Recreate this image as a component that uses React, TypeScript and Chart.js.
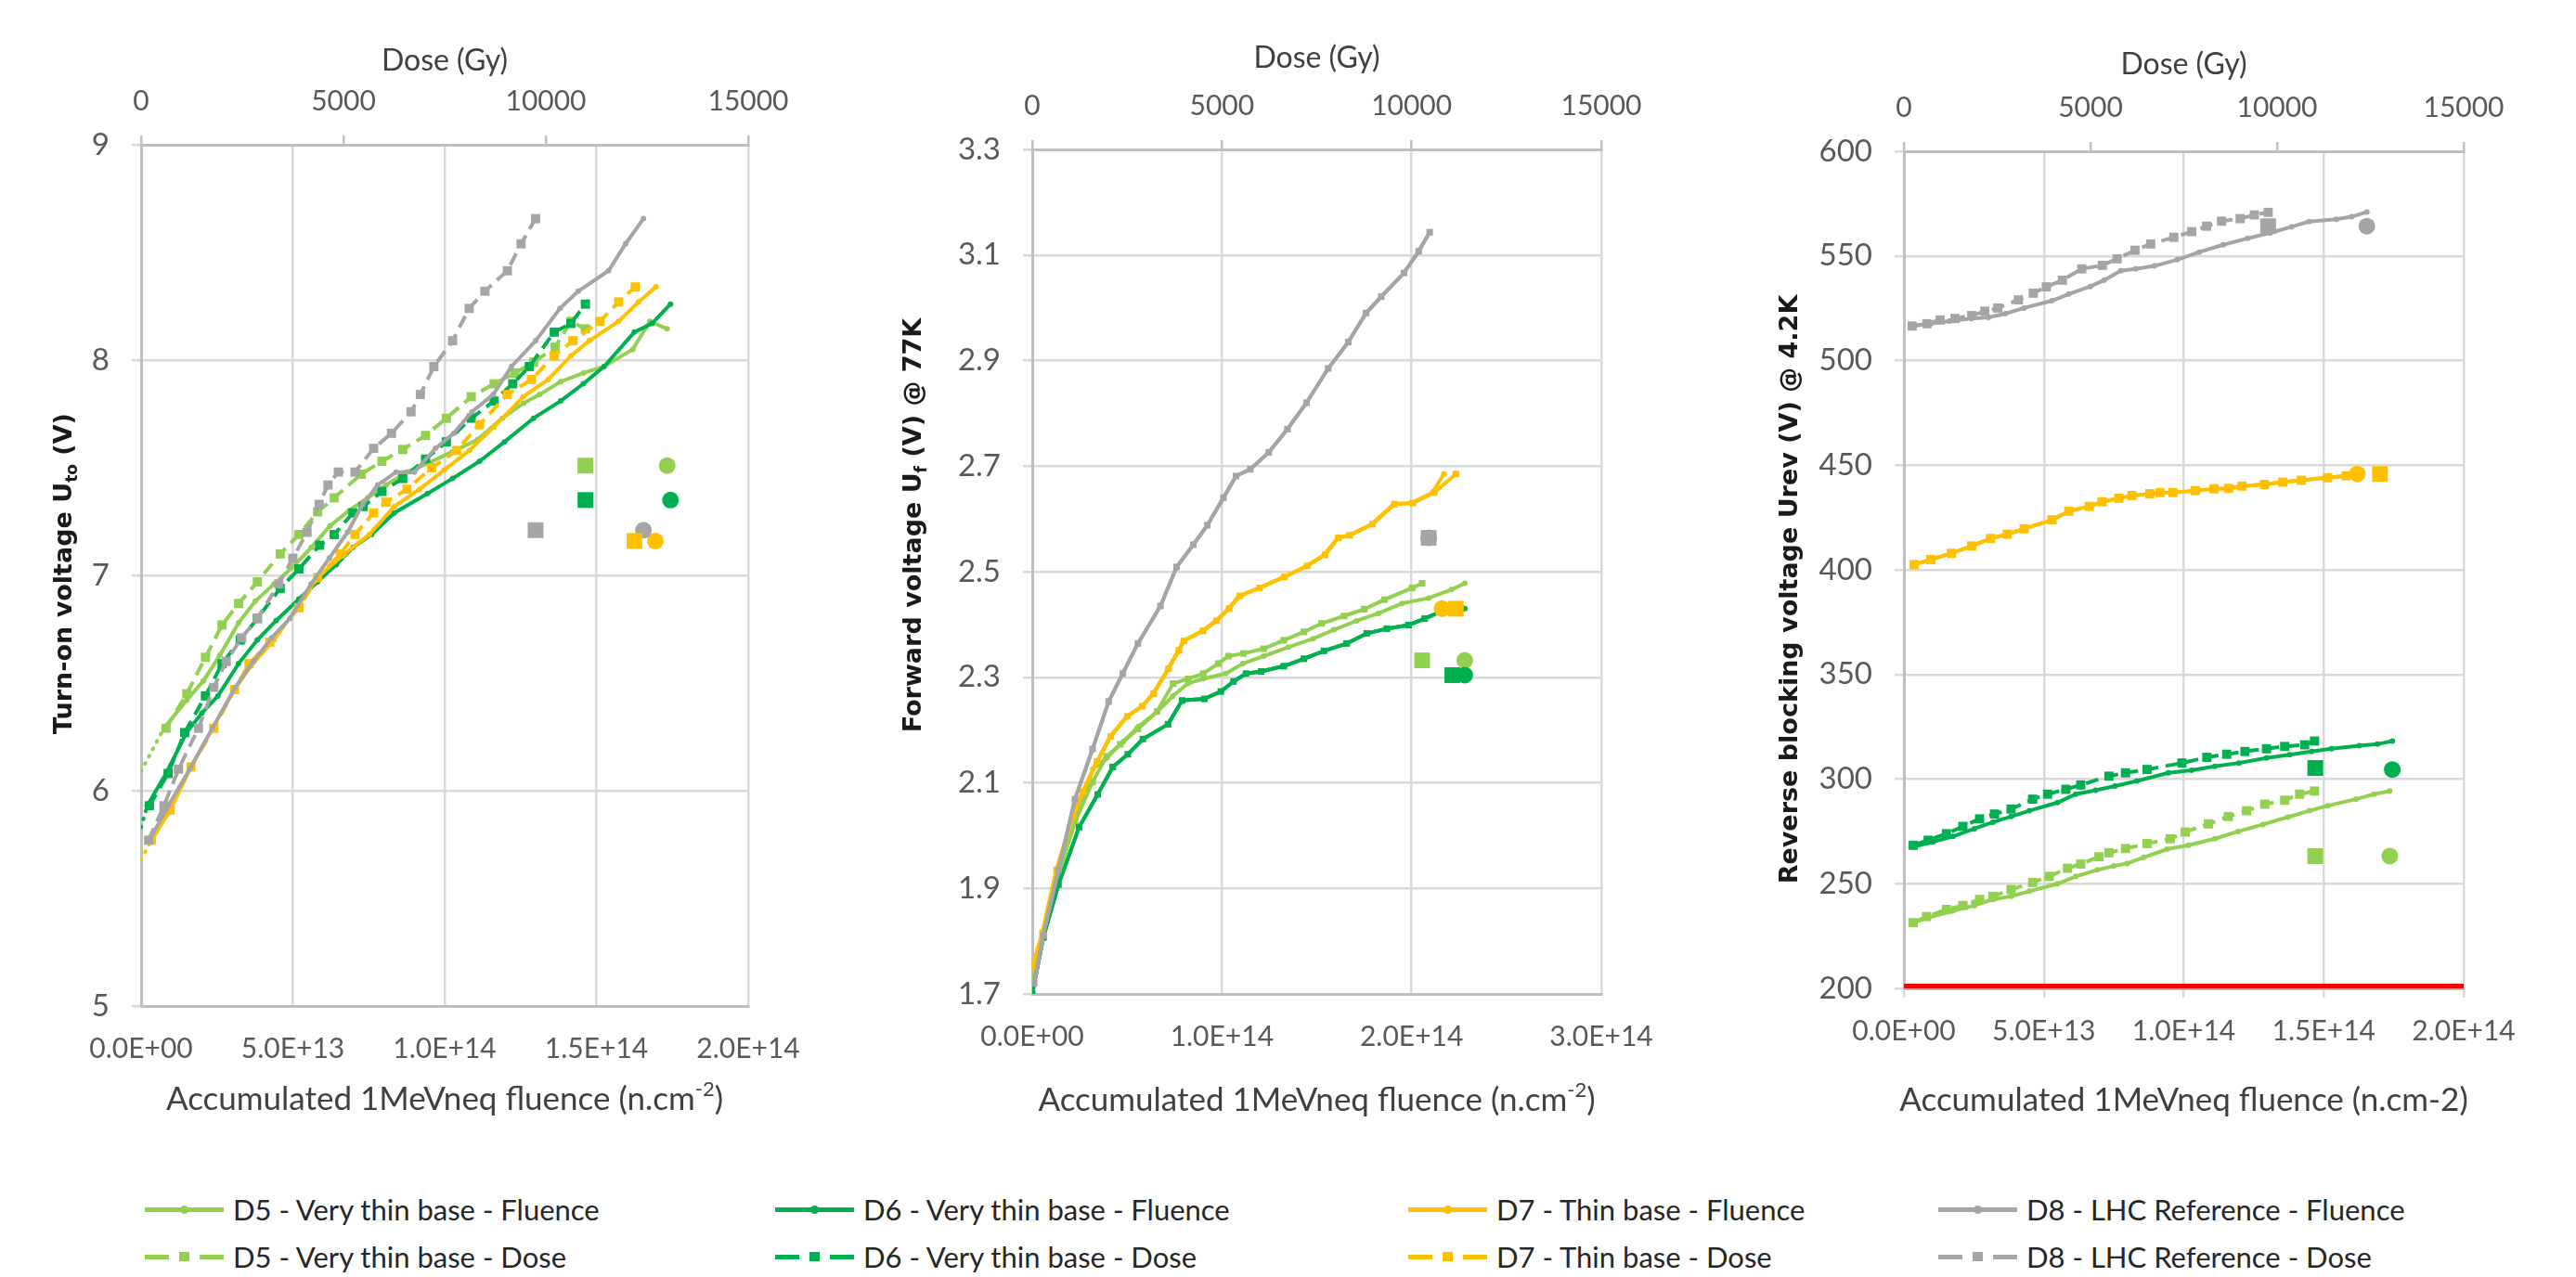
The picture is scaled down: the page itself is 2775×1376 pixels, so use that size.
import React, { useEffect, useRef } from "react";
import { Chart, registerables } from "chart.js";

Chart.register(...registerables);

// ---------- style constants ----------
const FONT = "Lato, 'Open Sans', sans-serif";
const BOLD_FAMILY = "'DejaVu Sans', Verdana, sans-serif";
const C_D5 = "#92D050";
const C_D6 = "#00B050";
const C_D7 = "#FFC000";
const C_D8 = "#A5A5A5";
const RED = "#FF0000";
const GRID = "#D9D9D9";
const AXIS = "#BFBFBF";
const TICK_COLOR = "#595959";
const TITLE_COLOR = "#404040";
const YTITLE_COLOR = "#1A1A1A";
const E13 = 1e13;

// ---------- tick labels ----------
const FLU_TICKS_2E14 = ["0.0E+00", "5.0E+13", "1.0E+14", "1.5E+14", "2.0E+14"];
const FLU_TICKS_3E14 = ["0.0E+00", "1.0E+14", "2.0E+14", "3.0E+14"];
const DOSE_TICKS = ["0", "5000", "10000", "15000"];
const P1_Y_TICKS = ["5", "6", "7", "8", "9"];
const P2_Y_TICKS = ["1.7", "1.9", "2.1", "2.3", "2.5", "2.7", "2.9", "3.1", "3.3"];
const P3_Y_TICKS = ["200", "250", "300", "350", "400", "450", "500", "550", "600"];

// ---------- legend ----------
const LEGEND_FLU = [
  "D5 - Very thin base - Fluence",
  "D6 - Very thin base - Fluence",
  "D7 - Thin base - Fluence",
  "D8 - LHC Reference - Fluence",
];
const LEGEND_DOSE = [
  "D5 - Very thin base - Dose",
  "D6 - Very thin base - Dose",
  "D7 - Thin base - Dose",
  "D8 - LHC Reference - Dose",
];
const DEVICE_COLORS = [C_D5, C_D6, C_D7, C_D8];

// ================= PANEL 1 : Turn-on voltage =================
// fluence in units of 1E13 n/cm2, dose in Gy
const P1_D5_FLU_X = [0.75, 1.5, 2.05, 2.6, 3.21, 3.76, 4.38, 5.0, 5.61, 6.22, 6.84, 7.46, 8.07, 8.75, 9.44, 10.26, 11.08, 11.9, 12.6, 13.13, 13.82, 14.57, 15.25, 16.2, 16.76, 17.33];
const P1_D5_FLU_Y = [6.29, 6.42, 6.51, 6.63, 6.78, 6.88, 6.96, 7.04, 7.13, 7.23, 7.30, 7.36, 7.42, 7.48, 7.52, 7.575, 7.63, 7.73, 7.80, 7.84, 7.90, 7.94, 7.97, 8.05, 8.18, 8.145];
const P1_D5_DOSE_X = [616, 1129, 1590, 2001, 2411, 2873, 3437, 3899, 4361, 4771, 5438, 5951, 6464, 7028, 7541, 8157, 8721, 9234, 9700, 10229, 10620, 10978];
const P1_D5_DOSE_Y = [6.29, 6.45, 6.62, 6.77, 6.87, 6.97, 7.10, 7.19, 7.295, 7.36, 7.47, 7.53, 7.585, 7.65, 7.73, 7.83, 7.89, 7.94, 7.99, 8.06, 8.18, 8.145];

const P1_D6_FLU_X = [0.2, 0.82, 1.5, 2.0, 2.53, 3.21, 3.83, 4.45, 5.2, 5.81, 6.43, 6.98, 7.59, 8.34, 9.44, 10.26, 11.15, 11.97, 12.93, 13.82, 14.57, 15.25, 16.25, 16.83, 17.44];
const P1_D6_FLU_Y = [5.93, 6.08, 6.27, 6.36, 6.44, 6.59, 6.70, 6.79, 6.89, 6.97, 7.05, 7.13, 7.19, 7.29, 7.38, 7.45, 7.53, 7.62, 7.73, 7.81, 7.89, 7.97, 8.13, 8.17, 8.26];
const P1_D6_DOSE_X = [205, 667, 1077, 1590, 2001, 2450, 2873, 3437, 3899, 4412, 4771, 5233, 5489, 5951, 6464, 7028, 7541, 8157, 8721, 9183, 9593, 10208, 10619, 10978];
const P1_D6_DOSE_Y = [5.93, 6.08, 6.27, 6.44, 6.59, 6.70, 6.80, 6.94, 7.03, 7.14, 7.19, 7.29, 7.32, 7.39, 7.45, 7.54, 7.62, 7.73, 7.81, 7.89, 7.97, 8.13, 8.17, 8.26];

const P1_D7_FLU_X = [0.34, 0.96, 1.64, 2.39, 3.08, 3.62, 4.38, 5.13, 5.81, 6.70, 7.52, 8.34, 9.17, 9.99, 10.81, 11.63, 12.59, 13.41, 14.16, 14.77, 15.73, 16.39, 16.96];
const P1_D7_FLU_Y = [5.77, 5.91, 6.11, 6.30, 6.47, 6.58, 6.70, 6.85, 6.99, 7.10, 7.19, 7.32, 7.40, 7.49, 7.58, 7.69, 7.83, 7.91, 8.02, 8.09, 8.18, 8.27, 8.34];
const P1_D7_DOSE_X = [256, 718, 1231, 1796, 2309, 2668, 3181, 3899, 4361, 4925, 5284, 5746, 6053, 6566, 7182, 7797, 8362, 9049, 9644, 10208, 10670, 11337, 11799, 12209];
const P1_D7_DOSE_Y = [5.77, 5.91, 6.11, 6.29, 6.47, 6.59, 6.69, 6.85, 6.99, 7.10, 7.19, 7.29, 7.34, 7.40, 7.50, 7.58, 7.70, 7.84, 7.91, 8.02, 8.09, 8.18, 8.27, 8.34];

const P1_D8_FLU_X = [0.27, 0.9, 1.6, 2.35, 3.1, 3.7, 4.3, 4.9, 5.6, 6.2, 6.8, 7.3, 7.8, 8.4, 9.0, 9.7, 10.3, 10.9, 11.6, 12.2, 13.0, 13.8, 14.4, 15.4, 15.96, 16.55];
const P1_D8_Y = [5.77, 5.93, 6.10, 6.29, 6.48, 6.60, 6.71, 6.80, 6.96, 7.08, 7.20, 7.33, 7.42, 7.48, 7.48, 7.59, 7.66, 7.76, 7.84, 7.97, 8.09, 8.24, 8.32, 8.415, 8.54, 8.657];
const P1_D8_DOSE_X = [185, 564, 924, 1416, 1796, 2103, 2483, 2873, 3400, 3750, 4100, 4400, 4617, 4874, 5284, 5746, 6187, 6669, 6900, 7233, 7695, 8105, 8495, 9050, 9388, 9747];

// dotted start extensions (fluence)
const P1_D5_DOT_X = [0, 0.75];
const P1_D5_DOT_Y = [6.09, 6.29];
const P1_D6_DOT_X = [0, 0.2];
const P1_D6_DOT_Y = [5.83, 5.93];
const P1_D7_DOT_X = [0, 0.34];
const P1_D7_DOT_Y = [5.68, 5.77];

// isolated markers (order D5, D6, D7, D8)
const P1_SQ_DOSE = [10978, 10978, 12189, 9747];
const P1_SQ_Y = [7.51, 7.35, 7.16, 7.21];
const P1_CI_FLU = [17.33, 17.44, 16.94, 16.55];
const P1_CI_Y = [7.51, 7.35, 7.16, 7.21];

// ================= PANEL 2 : Forward voltage =================
const P2_D5_FLU_X = [0, 0.58, 1.33, 2.25, 3.2, 3.85, 4.8, 5.6, 6.6, 7.4, 8.2, 9.0, 10.2, 11.1, 12.2, 13.5, 14.8, 15.9, 17.1, 18.25, 19.5, 20.9, 22.1, 22.8];
const P2_D5_FLU_Y = [1.72, 1.807, 1.921, 2.026, 2.126, 2.145, 2.178, 2.207, 2.235, 2.264, 2.288, 2.297, 2.307, 2.326, 2.34, 2.357, 2.373, 2.39, 2.407, 2.421, 2.44, 2.45, 2.466, 2.478];
const P2_D5_DOSE_X = [0, 292, 663, 1127, 1591, 1962, 2321, 2785, 3288, 3713, 4111, 4508, 4906, 5171, 5569, 6100, 6630, 7160, 7625, 8221, 8752, 9282, 10011, 10277];
const P2_D5_DOSE_Y = [1.72, 1.807, 1.921, 2.026, 2.102, 2.15, 2.173, 2.202, 2.235, 2.288, 2.297, 2.307, 2.326, 2.34, 2.345, 2.354, 2.37, 2.386, 2.402, 2.416, 2.429, 2.447, 2.469, 2.478];

const P2_D6_FLU_X = [0, 0.58, 1.38, 2.47, 3.45, 4.24, 5.04, 5.84, 7.16, 7.9, 9.07, 9.95, 10.61, 11.27, 12.07, 13.26, 14.32, 15.38, 16.58, 17.64, 18.70, 19.84, 20.69, 21.62, 22.81];
const P2_D6_Y = [1.70, 1.807, 1.907, 2.016, 2.078, 2.13, 2.154, 2.183, 2.211, 2.256, 2.259, 2.273, 2.292, 2.307, 2.311, 2.321, 2.335, 2.35, 2.364, 2.383, 2.392, 2.399, 2.411, 2.426, 2.43];
const P2_D6_DOSE_X = [0, 292, 690, 1234, 1724, 2122, 2519, 2917, 3580, 3950, 4535, 4972, 5304, 5635, 6033, 6630, 7160, 7690, 8287, 8818, 9348, 9918, 10343, 10807, 11300];

const P2_D7_FLU_X = [0, 0.53, 1.27, 2.12, 2.65, 3.40, 4.11, 4.99, 5.78, 6.37, 7.16, 7.7, 7.96, 8.97, 9.68, 10.34, 10.9, 11.94, 13.26, 14.46, 15.4, 16.1, 16.7, 17.9, 19.05, 20.0, 21.1, 21.7];
const P2_D7_Y = [1.75, 1.816, 1.935, 2.035, 2.083, 2.14, 2.188, 2.226, 2.245, 2.269, 2.316, 2.351, 2.369, 2.388, 2.407, 2.43, 2.454, 2.469, 2.49, 2.511, 2.532, 2.564, 2.569, 2.59, 2.628, 2.63, 2.65, 2.685];
const P2_D7_DOSE_X = [0, 270, 640, 1070, 1340, 1710, 2070, 2510, 2900, 3200, 3590, 3870, 4000, 4500, 4860, 5190, 5470, 5990, 6650, 7250, 7720, 8070, 8370, 8970, 9550, 10030, 10600, 11165];

const P2_D8_FLU_X = [0.1, 0.58, 1.38, 2.25, 3.18, 4.03, 4.77, 5.57, 6.76, 7.61, 8.49, 9.23, 10.08, 10.74, 11.49, 12.47, 13.45, 14.46, 15.6, 16.66, 17.6, 18.4, 19.6, 20.37, 20.95];
const P2_D8_Y = [1.72, 1.811, 1.935, 2.069, 2.164, 2.254, 2.307, 2.364, 2.435, 2.509, 2.551, 2.588, 2.64, 2.681, 2.694, 2.726, 2.77, 2.82, 2.885, 2.935, 2.99, 3.021, 3.066, 3.107, 3.143];
const P2_D8_DOSE_X = [50, 290, 690, 1125, 1590, 2015, 2385, 2785, 3380, 3805, 4245, 4615, 5040, 5370, 5745, 6235, 6725, 7230, 7800, 8330, 8800, 9200, 9800, 10185, 10477];

const P2_SQ_DOSE = [10277, 11072, 11165, 10450];
const P2_SQ_Y = [2.332, 2.304, 2.43, 2.564];
const P2_CI_FLU = [22.8, 22.8, 21.6, 20.9];
const P2_CI_Y = [2.332, 2.304, 2.43, 2.564];

// ================= PANEL 3 : Reverse blocking voltage =================
const P3_D5_FLU_X = [0.33, 0.86, 1.75, 2.52, 3.18, 3.83, 4.48, 5.49, 6.14, 6.91, 7.5, 7.97, 8.57, 9.40, 10.17, 11.11, 11.94, 12.83, 13.72, 14.49, 15.14, 16.15, 16.8, 17.36];
const P3_D5_FLU_Y = [231.4, 233.8, 237.0, 239.6, 242.5, 244.0, 246.4, 250.0, 253.5, 256.6, 258.5, 259.7, 262.6, 266.5, 268.4, 271.5, 275.0, 278.3, 281.8, 284.9, 287.3, 290.4, 292.8, 294.3];
const P3_D5_DOSE_X = [249, 604, 1138, 1582, 2027, 2382, 2871, 3449, 3893, 4382, 4738, 5227, 5493, 5938, 6516, 7138, 7538, 8160, 8693, 9182, 9671, 10204, 10604, 11004];
const P3_D5_DOSE_Y = [231.4, 234.3, 237.7, 239.6, 242.5, 244.0, 247.2, 250.6, 253.5, 257.4, 259.4, 262.9, 264.8, 266.8, 269.2, 271.5, 274.7, 278.6, 282.1, 284.9, 288.0, 289.9, 292.8, 294.3];

const P3_D6_FLU_X = [0.33, 1.04, 1.75, 2.52, 3.18, 3.83, 4.48, 5.49, 6.14, 6.85, 7.54, 8.33, 9.45, 10.28, 11.11, 11.97, 12.95, 13.78, 14.57, 15.28, 16.27, 16.92, 17.45];
const P3_D6_FLU_Y = [267.6, 270.0, 272.6, 276.3, 279.4, 282.1, 284.9, 288.8, 292.8, 294.7, 296.7, 299.1, 303.0, 304.2, 306.1, 307.7, 310.1, 311.6, 313.2, 314.5, 316.0, 316.7, 318.2];
const P3_D6_DOSE_X = [249, 649, 1138, 1582, 2027, 2427, 2871, 3449, 3849, 4338, 4738, 5493, 5938, 6516, 7449, 8116, 8649, 9138, 9716, 10204, 10738, 11004];
const P3_D6_DOSE_Y = [268.4, 270.8, 273.9, 277.4, 281.0, 283.3, 285.7, 290.4, 292.8, 295.1, 297.2, 301.4, 303.0, 304.6, 307.7, 310.4, 311.9, 313.2, 314.5, 315.6, 316.4, 318.2];

const P3_D7_FLU_X = [0.36, 0.96, 1.69, 2.42, 3.09, 3.69, 4.29, 5.29, 5.89, 6.62, 7.08, 7.68, 8.15, 8.79, 9.15, 9.61, 10.41, 11.08, 11.6, 12.08, 12.88, 13.54, 14.2, 15.14, 15.8];
const P3_D7_Y = [402.5, 404.9, 407.9, 411.4, 415.0, 417.0, 419.6, 423.9, 428.0, 430.3, 432.5, 434.2, 435.5, 436.4, 436.9, 436.9, 437.8, 438.7, 438.9, 440.0, 440.8, 441.9, 442.8, 444.0, 444.9];
const P3_D7_DOSE_X = [270, 720, 1270, 1815, 2320, 2770, 3220, 3970, 4420, 4965, 5310, 5760, 6110, 6590, 6860, 7210, 7810, 8310, 8700, 9060, 9660, 10155, 10650, 11355, 11850];

const P3_D8_FLU_X = [0.29, 0.96, 1.62, 2.42, 3.02, 3.62, 4.29, 5.29, 5.89, 6.66, 7.15, 7.75, 8.28, 8.95, 9.77, 10.55, 11.41, 12.28, 13.08, 13.85, 14.47, 15.45, 16.0, 16.54];
const P3_D8_FLU_Y = [516.5, 517.6, 518.8, 520.1, 520.6, 522.4, 525.1, 528.6, 531.8, 535.4, 538.4, 542.9, 543.8, 545.2, 548.2, 551.8, 555.3, 558.4, 561.0, 563.9, 566.4, 567.5, 568.7, 571.0];
const P3_D8_DOSE_X = [220, 619, 969, 1369, 1818, 2168, 2517, 3067, 3466, 3816, 4246, 4765, 5315, 5714, 6193, 6613, 7233, 7712, 8112, 8511, 9010, 9390, 9760];
const P3_D8_DOSE_Y = [516.5, 517.6, 519.4, 520.1, 521.5, 523.6, 525.1, 529.0, 532.2, 535.2, 538.4, 543.8, 545.5, 548.6, 552.7, 555.7, 558.9, 561.6, 564.2, 566.6, 567.8, 569.6, 570.8];

const P3_SQ_DOSE = [11022, 11022, 12757, 9760];
const P3_SQ_Y = [263.2, 305.3, 445.8, 564.2];
const P3_CI_FLU = [17.36, 17.45, 16.2, 16.54];
const P3_CI_Y = [263.2, 304.6, 445.8, 564.2];

const P3_LIMIT_X = [0, 20];
const P3_LIMIT_Y = [200, 200];

// ---------- helpers ----------
type Seg = { t: string; s?: "sub" | "sup" };

const pts = (xs: number[], ys: number[], k = 1) => xs.map((x, i) => ({ x: x * k, y: ys[i] }));

function line(color: string, xs: number[], ys: number[], kind: "flu" | "dose", dashed: boolean, rectR = 7) {
  const flu = kind === "flu";
  return {
    data: pts(xs, ys, flu ? E13 : 1),
    xAxisID: flu ? "x" : "x2",
    yAxisID: "y",
    borderColor: color,
    backgroundColor: color,
    borderWidth: 4,
    borderDash: dashed ? [14, 8] : [],
    pointStyle: flu ? "circle" : "rect",
    pointRadius: flu ? 3 : rectR,
    pointBorderWidth: 0,
    pointBackgroundColor: color,
    tension: 0,
    fill: false,
  };
}

function dotted(color: string, xs: number[], ys: number[]) {
  return {
    data: pts(xs, ys, E13),
    xAxisID: "x",
    yAxisID: "y",
    borderColor: color,
    borderWidth: 4,
    borderDash: [1, 8],
    borderCapStyle: "round",
    pointRadius: 0,
    tension: 0,
    fill: false,
  };
}

function markers(xs: number[], ys: number[], kind: "flu" | "dose") {
  const flu = kind === "flu";
  return {
    data: pts(xs, ys, flu ? E13 : 1),
    xAxisID: flu ? "x" : "x2",
    yAxisID: "y",
    showLine: false,
    pointStyle: flu ? "circle" : "rect",
    pointRadius: flu ? 9 : 12,
    pointBorderWidth: 0,
    pointBackgroundColor: DEVICE_COLORS,
    borderColor: DEVICE_COLORS,
  };
}

function drawRich(ctx: CanvasRenderingContext2D, segs: Seg[], size: number, family: string, weight: string, color: string, x: number, y: number, rotate: boolean) {
  ctx.save();
  ctx.translate(x, y);
  if (rotate) ctx.rotate(-Math.PI / 2);
  ctx.fillStyle = color;
  ctx.textBaseline = "middle";
  ctx.textAlign = "left";
  const fontFor = (sg: Seg) => `${weight} ${sg.s ? Math.round(size * 0.62) : size}px ${family}`;
  const widths = segs.map((sg) => {
    ctx.font = fontFor(sg);
    return ctx.measureText(sg.t).width;
  });
  const total = widths.reduce((a, b) => a + b, 0);
  let cx = -total / 2;
  segs.forEach((sg, i) => {
    ctx.font = fontFor(sg);
    const dy = sg.s === "sub" ? size * 0.3 : sg.s === "sup" ? -size * 0.32 : 0;
    ctx.fillText(sg.t, cx, dy);
    cx += widths[i];
  });
  ctx.restore();
}

interface PanelCfg {
  left: number;
  w: number;
  h: number;
  area: { l: number; r: number; t: number; b: number };
  yMin: number;
  yMax: number;
  yStep: number;
  yTicks: string[];
  xMax: number;
  xStep: number;
  xTicks: string[];
  xTickMarks: boolean;
  doseTitlePad: number;
  yTitle: Seg[];
  yTitleX: number;
  yTitleY: number;
  xTitle: Seg[];
  xTitleY: number;
  datasets: any[];
}

function buildConfig(cfg: PanelCfg): any {
  const titlePlugin = {
    id: "richTitles",
    afterDraw(chart: any) {
      const ctx = chart.ctx as CanvasRenderingContext2D;
      const a = chart.chartArea;
      drawRich(ctx, cfg.yTitle, 27, BOLD_FAMILY, "bold", YTITLE_COLOR, cfg.yTitleX, cfg.yTitleY, true);
      drawRich(ctx, cfg.xTitle, 35, FONT, "normal", TITLE_COLOR, (a.left + a.right) / 2, cfg.xTitleY, false);
    },
  };
  return {
    type: "line",
    data: { datasets: cfg.datasets },
    plugins: [titlePlugin],
    options: {
      animation: false,
      responsive: false,
      maintainAspectRatio: false,
      events: [],
      layout: { padding: { left: 0, top: 0, bottom: 0, right: cfg.w - cfg.area.r } },
      plugins: { legend: { display: false }, tooltip: { enabled: false }, title: { display: false } },
      scales: {
        x: {
          type: "linear",
          position: "bottom",
          min: 0,
          max: cfg.xMax,
          ticks: {
            stepSize: cfg.xStep,
            autoSkip: false,
            maxRotation: 0,
            minRotation: 0,
            padding: cfg.xTickMarks ? 18 : 28,
            color: TICK_COLOR,
            font: { family: FONT, size: 30 },
            callback: (_v: any, i: number) => cfg.xTicks[i] ?? "",
          },
          grid: { color: GRID, lineWidth: 2.5, drawTicks: cfg.xTickMarks, tickLength: 10 },
          border: { display: true, color: AXIS, width: 3 },
          afterFit: (s: any) => {
            s.height = cfg.h - cfg.area.b;
          },
        },
        x2: {
          type: "linear",
          position: "top",
          min: 0,
          max: 15000,
          ticks: {
            stepSize: 5000,
            autoSkip: false,
            maxRotation: 0,
            minRotation: 0,
            padding: 19,
            color: TICK_COLOR,
            font: { family: FONT, size: 30 },
            callback: (_v: any, i: number) => DOSE_TICKS[i] ?? "",
          },
          grid: { drawOnChartArea: false, drawTicks: true, tickLength: 10, color: AXIS, lineWidth: 2.5 },
          border: { display: true, color: AXIS, width: 3 },
          title: {
            display: true,
            text: "Dose (Gy)",
            color: TITLE_COLOR,
            font: { family: FONT, size: 32 },
            padding: { top: cfg.doseTitlePad, bottom: 0 },
          },
          afterFit: (s: any) => {
            s.height = cfg.area.t;
          },
        },
        y: {
          type: "linear",
          position: "left",
          min: cfg.yMin,
          max: cfg.yMax,
          ticks: {
            stepSize: cfg.yStep,
            padding: 24,
            color: TICK_COLOR,
            font: { family: FONT, size: 33 },
            callback: (_v: any, i: number) => cfg.yTicks[i] ?? "",
          },
          grid: { color: GRID, lineWidth: 2.5, drawTicks: true, tickLength: 10 },
          border: { display: true, color: AXIS, width: 3 },
          afterFit: (s: any) => {
            s.width = cfg.area.l;
          },
        },
      },
    },
  };
}

// ---------- panel definitions ----------
const X_TITLE_SUP: Seg[] = [{ t: "Accumulated 1MeVneq fluence (n.cm" }, { t: "-2", s: "sup" }, { t: ")" }];
const X_TITLE_PLAIN: Seg[] = [{ t: "Accumulated 1MeVneq fluence (n.cm-2)" }];

const PANEL1: PanelCfg = {
  left: 0,
  w: 900,
  h: 1230,
  area: { l: 152, r: 806, t: 156, b: 1084 },
  yMin: 5,
  yMax: 9,
  yStep: 1,
  yTicks: P1_Y_TICKS,
  xMax: 2e14,
  xStep: 5e13,
  xTicks: FLU_TICKS_2E14,
  xTickMarks: false,
  doseTitlePad: 46,
  yTitle: [{ t: "Turn-on voltage U" }, { t: "to", s: "sub" }, { t: " (V)" }],
  yTitleX: 70,
  yTitleY: 618,
  xTitle: X_TITLE_SUP,
  xTitleY: 1185,
  datasets: [
    markers(P1_SQ_DOSE, P1_SQ_Y, "dose"),
    markers(P1_CI_FLU, P1_CI_Y, "flu"),
    line(C_D8, P1_D8_DOSE_X, P1_D8_Y, "dose", true),
    line(C_D8, P1_D8_FLU_X, P1_D8_Y, "flu", false),
    line(C_D7, P1_D7_DOSE_X, P1_D7_DOSE_Y, "dose", true),
    line(C_D7, P1_D7_FLU_X, P1_D7_FLU_Y, "flu", false),
    line(C_D6, P1_D6_DOSE_X, P1_D6_DOSE_Y, "dose", true),
    line(C_D6, P1_D6_FLU_X, P1_D6_FLU_Y, "flu", false),
    line(C_D5, P1_D5_DOSE_X, P1_D5_DOSE_Y, "dose", true),
    line(C_D5, P1_D5_FLU_X, P1_D5_FLU_Y, "flu", false),
    dotted(C_D5, P1_D5_DOT_X, P1_D5_DOT_Y),
    dotted(C_D6, P1_D6_DOT_X, P1_D6_DOT_Y),
    dotted(C_D7, P1_D7_DOT_X, P1_D7_DOT_Y),
  ],
};

const PANEL2: PanelCfg = {
  left: 900,
  w: 950,
  h: 1230,
  area: { l: 212, r: 825, t: 161, b: 1071 },
  yMin: 1.7,
  yMax: 3.3,
  yStep: 0.2,
  yTicks: P2_Y_TICKS,
  xMax: 3e14,
  xStep: 1e14,
  xTicks: FLU_TICKS_3E14,
  xTickMarks: false,
  doseTitlePad: 43,
  yTitle: [{ t: "Forward voltage U" }, { t: "f", s: "sub" }, { t: " (V) @ 77K" }],
  yTitleX: 85,
  yTitleY: 566,
  xTitle: X_TITLE_SUP,
  xTitleY: 1186,
  datasets: [
    markers(P2_SQ_DOSE, P2_SQ_Y, "dose"),
    markers(P2_CI_FLU, P2_CI_Y, "flu"),
    line(C_D8, P2_D8_DOSE_X, P2_D8_Y, "dose", false, 5),
    line(C_D8, P2_D8_FLU_X, P2_D8_Y, "flu", false),
    line(C_D7, P2_D7_DOSE_X, P2_D7_Y, "dose", false, 5),
    line(C_D7, P2_D7_FLU_X, P2_D7_Y, "flu", false),
    line(C_D6, P2_D6_DOSE_X, P2_D6_Y, "dose", false, 5),
    line(C_D6, P2_D6_FLU_X, P2_D6_Y, "flu", false),
    line(C_D5, P2_D5_DOSE_X, P2_D5_DOSE_Y, "dose", false, 5),
    line(C_D5, P2_D5_FLU_X, P2_D5_FLU_Y, "flu", false),
  ],
};

const PANEL3: PanelCfg = {
  left: 1850,
  w: 925,
  h: 1230,
  area: { l: 201, r: 804, t: 163, b: 1065 },
  yMin: 200,
  yMax: 600,
  yStep: 50,
  yTicks: P3_Y_TICKS,
  xMax: 2e14,
  xStep: 5e13,
  xTicks: FLU_TICKS_2E14,
  xTickMarks: true,
  doseTitlePad: 50,
  yTitle: [{ t: "Reverse blocking voltage Urev (V) @ 4.2K" }],
  yTitleX: 79,
  yTitleY: 635,
  xTitle: X_TITLE_PLAIN,
  xTitleY: 1186,
  datasets: [
    markers(P3_SQ_DOSE, P3_SQ_Y, "dose"),
    markers(P3_CI_FLU, P3_CI_Y, "flu"),
    line(C_D8, P3_D8_DOSE_X, P3_D8_DOSE_Y, "dose", true),
    line(C_D8, P3_D8_FLU_X, P3_D8_FLU_Y, "flu", false),
    line(C_D7, P3_D7_DOSE_X, P3_D7_Y, "dose", true),
    line(C_D7, P3_D7_FLU_X, P3_D7_Y, "flu", false),
    line(C_D6, P3_D6_DOSE_X, P3_D6_DOSE_Y, "dose", true),
    line(C_D6, P3_D6_FLU_X, P3_D6_FLU_Y, "flu", false),
    line(C_D5, P3_D5_DOSE_X, P3_D5_DOSE_Y, "dose", true),
    line(C_D5, P3_D5_FLU_X, P3_D5_FLU_Y, "flu", false),
    {
      data: pts(P3_LIMIT_X, P3_LIMIT_Y, E13),
      xAxisID: "x",
      yAxisID: "y",
      borderColor: RED,
      borderWidth: 10,
      pointRadius: 0,
      tension: 0,
      fill: false,
    },
  ],
};

function Panel({ cfg }: { cfg: PanelCfg }) {
  const ref = useRef<HTMLCanvasElement | null>(null);
  useEffect(() => {
    if (!ref.current) return;
    const chart = new Chart(ref.current, buildConfig(cfg));
    return () => chart.destroy();
  }, [cfg]);
  return (
    <canvas
      ref={ref}
      width={cfg.w}
      height={cfg.h}
      style={{ position: "absolute", left: cfg.left, top: 0, width: cfg.w, height: cfg.h }}
    />
  );
}

const LEGEND_SYMBOL_X = [156, 835, 1517, 2088];
const LEGEND_ROW_Y = [1303, 1354];

function LegendSymbol({ color, dose }: { color: string; dose: boolean }) {
  if (!dose) {
    return (
      <div style={{ position: "relative", width: 85, height: 20 }}>
        <div style={{ position: "absolute", left: 0, top: 7.5, width: 85, height: 5, background: color }} />
        <div style={{ position: "absolute", left: 38, top: 5.5, width: 9, height: 9, borderRadius: "50%", background: color }} />
      </div>
    );
  }
  return (
    <div style={{ position: "relative", width: 85, height: 20 }}>
      <div style={{ position: "absolute", left: 0, top: 7.5, width: 26, height: 5, background: color }} />
      <div style={{ position: "absolute", left: 37, top: 5, width: 11, height: 10, background: color }} />
      <div style={{ position: "absolute", left: 59, top: 7.5, width: 26, height: 5, background: color }} />
    </div>
  );
}

function Legend() {
  const items: any[] = [];
  [LEGEND_FLU, LEGEND_DOSE].forEach((labels, row) => {
    labels.forEach((label, col) => {
      items.push(
        <div
          key={`${row}-${col}`}
          style={{
            position: "absolute",
            left: LEGEND_SYMBOL_X[col],
            top: LEGEND_ROW_Y[row] - 20,
            height: 40,
            display: "flex",
            alignItems: "center",
            whiteSpace: "nowrap",
          }}
        >
          <LegendSymbol color={DEVICE_COLORS[col]} dose={row === 1} />
          <span style={{ marginLeft: 10, fontFamily: FONT, fontSize: 31, color: "#262626", lineHeight: "40px" }}>{label}</span>
        </div>
      );
    });
  });
  return <>{items}</>;
}

export default function App() {
  return (
    <div
      style={{
        position: "absolute",
        left: 0,
        top: 0,
        width: 2775,
        height: 1376,
        background: "#FFFFFF",
        overflow: "hidden",
      }}
    >
      <Panel cfg={PANEL1} />
      <Panel cfg={PANEL2} />
      <Panel cfg={PANEL3} />
      <Legend />
    </div>
  );
}
